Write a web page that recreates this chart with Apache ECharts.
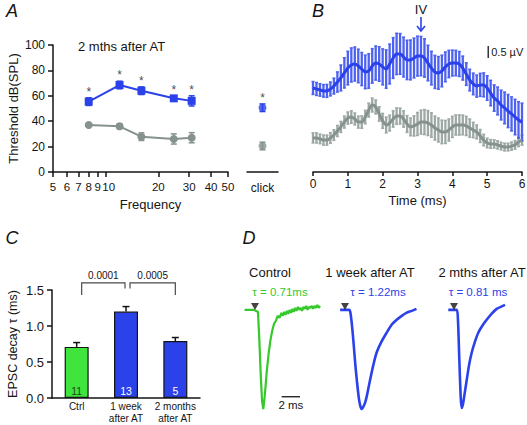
<!DOCTYPE html>
<html><head><meta charset="utf-8">
<script src="https://cdn.jsdelivr.net/npm/echarts@6/dist/echarts.min.js"></script>
<style>html,body{margin:0;padding:0;background:#fff}#c{width:527px;height:425px}</style>
</head><body><div id="c"></div>
<script>
// ---------- Panel A data ----------
const freqs = [8, 12, 16, 24.5, 31];
const blueThr = [55.4, 68.5, 64, 58, 56];
const blueThrErr = [3, 3, 3, 2, 4];
const greyThr = [37, 36, 27.8, 26, 27];
const greyThrErr = [1, 2, 3, 4, 4];
const freqTicks = [5, 6, 7, 8, 9, 10, 20, 30, 40, 50];
const clickCat = ['click'];
const clickBlue = [50.6];
const clickBlueErr = [3];
const clickGrey = [20.5];
const clickGreyErr = [3];

// ---------- Panel B data (µV) ----------
const tB = [0.0,0.1,0.2,0.3,0.4,0.5,0.6,0.7,0.8,0.9,
  1.0,1.1,1.2,1.3,1.4,1.5,1.6,1.7,1.8,1.9,
  2.0,2.1,2.2,2.3,2.4,2.5,2.6,2.7,2.8,2.9,
  3.0,3.1,3.2,3.3,3.4,3.5,3.6,3.7,3.8,3.9,
  4.0,4.1,4.2,4.3,4.4,4.5,4.6,4.7,4.8,4.9,
  5.0,5.1,5.2,5.3,5.4,5.5,5.6,5.7,5.8,5.9,6.0];
const blueMean = [3.50,3.46,3.42,3.38,3.38,3.46,3.58,3.75,3.92,4.13,
  4.33,4.46,4.50,4.42,4.29,4.17,4.21,4.42,4.54,4.50,
  4.38,4.29,4.50,4.75,4.92,4.92,4.79,4.67,4.67,4.75,
  4.83,4.83,4.75,4.54,4.33,4.17,4.13,4.21,4.38,4.50,
  4.54,4.54,4.50,4.33,4.08,3.83,3.67,3.58,3.63,3.63,
  3.50,3.29,3.08,2.96,2.79,2.67,2.54,2.42,2.29,2.17,2.08];
const blueSem = [0.27,0.27,0.26,0.26,0.27,0.29,0.33,0.42,0.54,0.63,
  0.70,0.71,0.71,0.70,0.69,0.70,0.72,0.72,0.71,0.72,
  0.75,0.80,0.83,0.85,0.86,0.85,0.83,0.82,0.83,0.83,
  0.83,0.82,0.80,0.74,0.70,0.69,0.68,0.66,0.62,0.57,
  0.54,0.53,0.52,0.50,0.47,0.45,0.45,0.46,0.48,0.50,
  0.51,0.53,0.55,0.58,0.62,0.66,0.69,0.71,0.74,0.76,0.79];
const greyMean = [1.42,1.42,1.38,1.33,1.33,1.42,1.54,1.71,1.88,2.08,
  2.25,2.29,2.21,2.08,2.08,2.29,2.58,2.79,2.71,2.42,
  2.13,1.96,2.04,2.21,2.33,2.33,2.21,2.00,1.88,1.92,
  2.00,2.08,2.08,2.04,1.96,1.83,1.75,1.67,1.67,1.75,
  1.88,1.96,1.96,1.96,1.92,1.83,1.75,1.67,1.50,1.33,
  1.21,1.17,1.17,1.13,1.08,1.04,1.04,1.08,1.13,1.25,1.33];
const greySem = [0.21,0.21,0.20,0.21,0.21,0.22,0.22,0.23,0.23,0.25,
  0.25,0.26,0.25,0.25,0.26,0.28,0.29,0.29,0.29,0.30,
  0.31,0.33,0.33,0.34,0.34,0.33,0.34,0.35,0.37,0.42,
  0.48,0.50,0.52,0.52,0.51,0.50,0.50,0.49,0.48,0.46,
  0.44,0.42,0.42,0.41,0.40,0.38,0.32,0.29,0.27,0.24,
  0.20,0.18,0.17,0.17,0.16,0.16,0.16,0.17,0.18,0.19,0.21];
const waveIV = [3.1, 6.46, 5.875];      // arrow: time, top, tip
const scaleB = [5.03, 4.75, 5.25];      // 0.5 µV bar

// ---------- Panel C data ----------
const cCats = ['Ctrl', '1 week\nafter AT', '2 months\nafter AT'];
const cDecay = [0.71, 1.20, 0.79];
const cSem = [0.06, 0.07, 0.05];
const cN = ['11', '13', '5'];
const cPairs = [[0, 1], [1, 2]];
const cP = ['0.0001', '0.0005'];

// ---------- Panel D data (normalized EPSC) ----------
const ctrlT = [0.5,1.0,1.5,1.95,2.1,2.25,2.4,2.53,2.7,2.9,3.1,3.3,3.5,3.7,3.9,4.1,4.3,4.5,4.65,4.8,4.95,5.1,5.25,5.4,5.55,5.7,5.85,6.0,6.15,6.3,6.45,6.6,6.75,6.9,7.05,7.2,7.35,7.5,7.65,7.8,7.95,8.1,8.25,8.4,8.55,8.7];
const ctrlV = [0,0,0,-0.02,-0.3,-0.65,-0.92,-1.0,-0.86,-0.63,-0.45,-0.31,-0.21,-0.14,-0.11,-0.06,-0.08,-0.03,-0.06,-0.02,-0.05,-0.01,-0.04,0.0,-0.03,0.01,-0.02,0.02,-0.01,0.03,0.0,0.02,-0.01,0.03,0.01,0.04,0.0,0.03,0.02,0.04,0.01,0.04,0.02,0.05,0.02,0.04];
const weekT = [1.1,2.1,2.2,2.35,2.55,2.75,2.95,3.15,3.3,3.45,3.6,3.8,4.0,4.35,4.7,5.07,5.6,6.16,6.7,7.25,7.8,8.3,8.9,9.4];
const weekV = [0,0,-0.02,-0.12,-0.32,-0.55,-0.74,-0.9,-0.97,-1.0,-0.98,-0.94,-0.87,-0.71,-0.56,-0.43,-0.32,-0.23,-0.15,-0.1,-0.06,-0.03,-0.01,0.01];
const monT = [0.9,1.8,1.95,2.1,2.25,2.36,2.5,2.7,2.9,3.15,3.45,3.8,4.16,4.6,5.07,5.6,6.16,6.6,7.07];
const monV = [0,0,-0.1,-0.5,-0.88,-0.99,-0.95,-0.83,-0.71,-0.56,-0.43,-0.32,-0.23,-0.16,-0.1,-0.04,0.01,0.03,0.05];
const stimT = [1.63, 1.63, 1.52];
const stimY = 0.035;
const scaleD = [4.53, 6.52, -0.876];    // 2 ms bar

// ---------- styles ----------
const FONT = '"Liberation Sans", Arial, Helvetica, sans-serif';
const INK = '#151515';
const BLUE = '#2b42ea';
const BLUE_ERR = '#4d62f0';
const GREY = '#86928e';
const GREY_ERR = '#9ea9a5';
const GREEN = '#3fe43c';
const GREEN_TR = '#36c92b';
const axLine = {show: true, lineStyle: {color: INK, width: 1.5}};
const axTick = {show: true, length: 5, lineStyle: {color: INK, width: 1.5}};

function vbar(color, capHalf, lw, upOnly) {
  return function (params, api) {
    const x = api.value(0), lo = api.value(1), hi = api.value(2);
    const a = api.coord([x, lo]), b = api.coord([x, hi]);
    const st = {stroke: color, lineWidth: lw};
    const cst = {stroke: color, lineWidth: Math.min(lw, 1.5)};
    const ch = [
      {type: 'line', shape: {x1: a[0], y1: a[1], x2: b[0], y2: b[1]}, style: st},
      {type: 'line', shape: {x1: b[0] - capHalf, y1: b[1], x2: b[0] + capHalf, y2: b[1]}, style: cst}
    ];
    if (!upOnly) ch.push({type: 'line', shape: {x1: a[0] - capHalf, y1: a[1], x2: a[0] + capHalf, y2: a[1]}, style: cst});
    return {type: 'group', children: ch};
  };
}
function errData(xs, m, e) { return xs.map((x, i) => [x, m[i] - e[i], m[i] + e[i]]); }
function starSeries(xi, yi, data) {
  return {type: 'scatter', xAxisIndex: xi, yAxisIndex: yi, data: data, symbolSize: 0, silent: true,
    label: {show: true, formatter: '*', position: 'top', distance: 0, fontSize: 12, color: INK, fontFamily: FONT}};
}

const chart = echarts.init(document.getElementById('c'), null, {renderer: 'svg'});

const grids = [
  {left: 53, top: 45, width: 175, height: 127},
  {left: 247, top: 45, width: 31, height: 127},
  {left: 313, top: 4, width: 209, height: 168},
  {left: 52, top: 290, width: 148, height: 108},
  {left: 240, top: 295, width: 92, height: 119},
  {left: 330, top: 295, width: 92, height: 119},
  {left: 440, top: 295, width: 92, height: 119}
].map(g => Object.assign({containLabel: false, outerBoundsMode: 'none'}, g));

const hiddenX = i => ({gridIndex: i, type: 'value', min: 0, max: 10, show: false});
const hiddenY = (i, mn, mx) => ({gridIndex: i, type: 'value', min: mn, max: mx, show: false});

const option = {
  animation: false,
  textStyle: {fontFamily: FONT, color: INK},
  grid: grids,
  xAxis: [
    {gridIndex: 0, type: 'log', logBase: 10, min: 5, max: 50,
      axisLine: axLine, axisTick: Object.assign({customValues: freqTicks}, axTick),
      axisLabel: {customValues: freqTicks, fontSize: 11.5, color: INK, margin: 9, fontFamily: FONT,
        hideOverlap: false,
        formatter: v => (Math.round(v) === 10 ? '{r|10}' : String(Math.round(v))),
        rich: {r: {fontSize: 11.5, fontFamily: FONT, color: INK, padding: [0, 0, 0, 6]}}},
      minorTick: {show: false}, splitLine: {show: false},
      name: 'Frequency', nameLocation: 'middle', nameGap: 26,
      nameTextStyle: {fontSize: 13, color: INK, fontFamily: FONT, padding: [0, 0, 0, 20]}},
    {gridIndex: 1, type: 'category', data: clickCat, axisLine: axLine, axisTick: {show: false},
      axisLabel: {fontSize: 12, color: INK, margin: 10, fontFamily: FONT}},
    {gridIndex: 2, type: 'value', min: 0, max: 6, interval: 1, axisLine: axLine,
      axisTick: Object.assign({}, axTick, {length: 4}), splitLine: {show: false},
      axisLabel: {fontSize: 12, color: INK, margin: 6, fontFamily: FONT},
      name: 'Time (ms)', nameLocation: 'middle', nameGap: 22,
      nameTextStyle: {fontSize: 13, color: INK, fontFamily: FONT}},
    {gridIndex: 3, type: 'category', data: cCats, axisLine: axLine, axisTick: {show: false},
      axisLabel: {fontSize: 10, lineHeight: 11.5, color: INK, margin: 3, fontFamily: FONT, interval: 0}},
    hiddenX(4), hiddenX(5), hiddenX(6)
  ],
  yAxis: [
    {gridIndex: 0, type: 'value', min: 0, max: 100, interval: 20, axisLine: axLine, axisTick: axTick,
      splitLine: {show: false}, axisLabel: {fontSize: 12, color: INK, margin: 8, fontFamily: FONT},
      name: 'Threshold dB(SPL)', nameLocation: 'middle', nameGap: 33, nameRotate: 90,
      nameTextStyle: {fontSize: 13, color: INK, fontFamily: FONT}},
    hiddenY(1, 0, 100),
    hiddenY(2, 0, 7),
    {gridIndex: 3, type: 'value', min: 0, max: 1.5, interval: 0.5, axisLine: axLine, axisTick: axTick,
      splitLine: {show: false},
      axisLabel: {fontSize: 13, color: INK, margin: 8, fontFamily: FONT, formatter: v => v.toFixed(1)},
      name: 'EPSC decay τ (ms)', nameLocation: 'middle', nameGap: 33, nameRotate: 90,
      nameTextStyle: {fontSize: 12.5, color: INK, fontFamily: FONT}},
    hiddenY(4, -1.05, 0.15), hiddenY(5, -1.05, 0.15), hiddenY(6, -1.05, 0.15)
  ],
  graphic: [
    ['A', 12, 11], ['B', 318, 11], ['C', 12, 238], ['D', 249, 238]
  ].map(([t, x, y]) => ({type: 'text', x: x, y: y, silent: true,
    style: {text: t, font: 'italic 18px ' + FONT, fill: INK, align: 'center', verticalAlign: 'middle', textAlign: 'center', textVerticalAlign: 'middle'}}))
  .concat([
    ['2 mths after AT', 78, 46, INK, '13px', 'left'],
    ['Control', 270, 272, INK, '13px', 'center'],
    ['1 week after AT', 370, 272, INK, '13px', 'center'],
    ['2 mths after AT', 482, 272, INK, '13px', 'center'],
    ['τ = 0.71ms', 280, 292, GREEN_TR, '11.5px', 'center'],
    ['τ = 1.22ms', 378, 292, BLUE, '11.5px', 'center'],
    ['τ = 0.81 ms', 478, 292, BLUE, '11.5px', 'center']
  ].map(([t, x, y, c, fs, al]) => ({type: 'text', x: x, y: y, silent: true,
    style: {text: t, font: fs + ' ' + FONT, fill: c, align: al, verticalAlign: 'middle', textAlign: al, textVerticalAlign: 'middle'}}))),
  series: [
    // ---- A ----
    {type: 'custom', xAxisIndex: 0, yAxisIndex: 0, renderItem: vbar(GREY, 3, 1.5), data: errData(freqs, greyThr, greyThrErr), z: 3},
    {type: 'line', xAxisIndex: 0, yAxisIndex: 0, data: freqs.map((f, i) => [f, greyThr[i]]),
      symbol: 'circle', symbolSize: 8, lineStyle: {color: GREY, width: 2}, itemStyle: {color: GREY}, z: 4},
    {type: 'custom', xAxisIndex: 0, yAxisIndex: 0, renderItem: vbar(BLUE, 3, 1.5), data: errData(freqs, blueThr, blueThrErr), z: 3},
    {type: 'line', xAxisIndex: 0, yAxisIndex: 0, data: freqs.map((f, i) => [f, blueThr[i]]),
      symbol: 'rect', symbolSize: 8, lineStyle: {color: BLUE, width: 2}, itemStyle: {color: BLUE}, z: 4},
    starSeries(0, 0, freqs.map((f, i) => [f, blueThr[i] + blueThrErr[i]])),
    {type: 'custom', xAxisIndex: 1, yAxisIndex: 1, renderItem: vbar(BLUE, 3, 1.5), data: errData([0], clickBlue, clickBlueErr)},
    {type: 'custom', xAxisIndex: 1, yAxisIndex: 1, renderItem: vbar(GREY, 3, 1.5), data: errData([0], clickGrey, clickGreyErr)},
    {type: 'scatter', xAxisIndex: 1, yAxisIndex: 1, data: [[0, clickBlue[0]]], symbol: 'circle', symbolSize: 8, itemStyle: {color: BLUE}},
    {type: 'scatter', xAxisIndex: 1, yAxisIndex: 1, data: [[0, clickGrey[0]]], symbol: 'circle', symbolSize: 8, itemStyle: {color: GREY}},
    starSeries(1, 1, [[0, clickBlue[0] + clickBlueErr[0]]]),
    // ---- B ----
    {type: 'custom', xAxisIndex: 2, yAxisIndex: 2, renderItem: vbar(GREY_ERR, 1.5, 2.3), data: errData(tB, greyMean, greySem)},
    {type: 'line', xAxisIndex: 2, yAxisIndex: 2, data: tB.map((t, i) => [t, greyMean[i]]), showSymbol: false,
      smooth: 0.3, lineStyle: {color: GREY, width: 3}},
    {type: 'custom', xAxisIndex: 2, yAxisIndex: 2, renderItem: vbar(BLUE_ERR, 1.5, 2.3), data: errData(tB, blueMean, blueSem)},
    {type: 'line', xAxisIndex: 2, yAxisIndex: 2, data: tB.map((t, i) => [t, blueMean[i]]), showSymbol: false,
      smooth: 0.3, lineStyle: {color: BLUE, width: 3}},
    {type: 'custom', xAxisIndex: 2, yAxisIndex: 2, data: [scaleB], silent: true,
      renderItem: (p, api) => {
        const a = api.coord([api.value(0), api.value(1)]), b = api.coord([api.value(0), api.value(2)]);
        return {type: 'group', children: [
          {type: 'line', shape: {x1: a[0], y1: a[1], x2: b[0], y2: b[1]}, style: {stroke: INK, lineWidth: 1.3}},
          {type: 'text', x: a[0] + 3, y: (a[1] + b[1]) / 2, style: {text: '0.5 µV', font: '11px ' + FONT, fill: INK, align: 'left', verticalAlign: 'middle'}}
        ]};
      }},
    {type: 'custom', xAxisIndex: 2, yAxisIndex: 2, data: [waveIV], silent: true,
      renderItem: (p, api) => {
        const a = api.coord([api.value(0), api.value(1)]), b = api.coord([api.value(0), api.value(2)]);
        const st = {stroke: BLUE, lineWidth: 1.6, fill: 'none'};
        return {type: 'group', children: [
          {type: 'line', shape: {x1: a[0], y1: a[1], x2: b[0], y2: b[1]}, style: st},
          {type: 'polyline', shape: {points: [[b[0] - 4, b[1] - 5], [b[0], b[1]], [b[0] + 4, b[1] - 5]]}, style: st},
          {type: 'text', x: a[0], y: a[1] - 7, style: {text: 'IV', font: '13px ' + FONT, fill: INK, align: 'center', verticalAlign: 'middle'}}
        ]};
      }},
    // ---- C ----
    {type: 'bar', xAxisIndex: 3, yAxisIndex: 3, barWidth: 24,
      data: cDecay.map((v, i) => ({value: v, label: {color: i === 0 ? '#1f4d14' : '#ffffff'}})),
      itemStyle: {color: p => p.dataIndex === 0 ? GREEN : BLUE, borderColor: INK, borderWidth: 1.2},
      label: {show: true, position: 'insideBottom', distance: 2, fontSize: 10.5, fontFamily: FONT,
        formatter: p => cN[p.dataIndex]}},
    {type: 'custom', xAxisIndex: 3, yAxisIndex: 3, renderItem: vbar(INK, 3.5, 1.5, true),
      data: cDecay.map((v, i) => [i, v, v + cSem[i]]), z: 3},
    {type: 'custom', xAxisIndex: 3, yAxisIndex: 3, silent: true,
      data: cPairs.map((pr, k) => [pr[0], pr[1], 1.60, k === 0 ? 1.43 : 1.52, k === 0 ? 1.52 : 1.43]),
      renderItem: (p, api) => {
        const top = api.value(2);
        const l = api.coord([api.value(0), top]), r = api.coord([api.value(1), top]);
        const lb = api.coord([api.value(0), api.value(3)]), rb = api.coord([api.value(1), api.value(4)]);
        const x1 = l[0] + (p.dataIndex === 0 ? 5 : 4), x2 = r[0] - (p.dataIndex === 0 ? 1 : 0);
        const st = {stroke: '#4a4a4a', lineWidth: 1.2, fill: 'none'};
        return {type: 'group', children: [
          {type: 'polyline', shape: {points: [[x1, lb[1]], [x1, l[1]], [x2, r[1]], [x2, rb[1]]]}, style: st},
          {type: 'text', x: (x1 + x2) / 2, y: l[1] - 2, style: {text: cP[p.dataIndex], font: '10px ' + FONT, fill: INK, align: 'center', verticalAlign: 'bottom'}}
        ]};
      }},
    // ---- D ----
    {type: 'line', xAxisIndex: 4, yAxisIndex: 4, data: ctrlT.map((t, i) => [t, ctrlV[i]]), showSymbol: false,
      lineStyle: {color: GREEN_TR, width: 2.2}},
    {type: 'line', xAxisIndex: 5, yAxisIndex: 5, data: weekT.map((t, i) => [t, weekV[i]]), showSymbol: false,
      smooth: 0.25, lineStyle: {color: BLUE, width: 2.6}},
    {type: 'line', xAxisIndex: 6, yAxisIndex: 6, data: monT.map((t, i) => [t, monV[i]]), showSymbol: false,
      smooth: 0.25, lineStyle: {color: BLUE, width: 2.6}},
    ...stimT.map((t, i) => ({type: 'scatter', xAxisIndex: 4 + i, yAxisIndex: 4 + i, data: [[t, stimY]],
      symbol: 'triangle', symbolRotate: 180, symbolSize: [8, 7], itemStyle: {color: INK}, z: 5})),
    {type: 'custom', xAxisIndex: 4, yAxisIndex: 4, data: [scaleD], silent: true,
      renderItem: (p, api) => {
        const a = api.coord([api.value(0), api.value(2)]), b = api.coord([api.value(1), api.value(2)]);
        return {type: 'group', children: [
          {type: 'line', shape: {x1: a[0], y1: a[1], x2: b[0], y2: b[1]}, style: {stroke: INK, lineWidth: 1.3}},
          {type: 'text', x: (a[0] + b[0]) / 2, y: a[1] + 2, style: {text: '2 ms', font: '11.5px ' + FONT, fill: INK, align: 'center', verticalAlign: 'top'}}
        ]};
      }}
  ]
};
chart.setOption(option);
</script>
</body></html>
